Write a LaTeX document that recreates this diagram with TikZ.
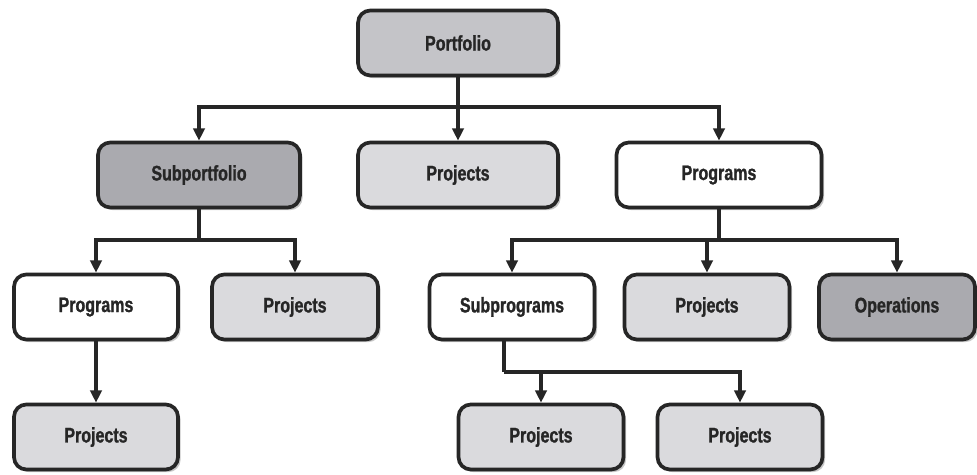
\documentclass[tikz,border=0pt]{standalone}
\usepackage{fontspec}
\setmainfont{Liberation Sans}[FakeStretch=0.76,FakeBold=1.2]
\usetikzlibrary{arrows.meta,shadows}

\definecolor{boxmid}{RGB}{196,196,200}
\definecolor{boxdark}{RGB}{170,170,175}
\definecolor{boxlight}{RGB}{218,218,221}

\begin{document}
\begin{tikzpicture}[x=0.02cm, y=-0.02cm,
        box/.style={draw=black!85, line width=2.1pt, rounded corners=7pt,
            minimum height=1.3cm, font=\fontsize{12}{14}\selectfont\bfseries,
            text=black!85, drop shadow={shadow xshift=1.5pt,
            shadow yshift=-1.5pt, fill=black!22, opacity=1}},
        link/.style={line width=2.1pt, draw=black!85},
        arr/.style={link, -{Triangle[length=7pt,width=6.5pt]}}]
        \useasboundingbox (0,0) rectangle (977,475);

        \node[box, fill=boxmid, minimum width=4cm] (port) at (458,43) {Portfolio};
        \node[box, fill=boxdark, minimum width=4.04cm] (sub) at (199,175) {Subportfolio};
        \node[box, fill=boxlight, minimum width=4cm] (projA) at (458,175) {Projects};
        \node[box, fill=white, minimum width=4.1cm] (progA) at (719,175) {Programs};
        \node[box, fill=white, minimum width=3.28cm] (progB) at (96,307) {Programs};
        \node[box, fill=boxlight, minimum width=3.32cm] (projB) at (295,307) {Projects};
        \node[box, fill=white, minimum width=3.3cm] (subprog) at (512,307) {Subprograms};
        \node[box, fill=boxlight, minimum width=3.3cm] (projC) at (707,307) {Projects};
        \node[box, fill=boxdark, minimum width=3.12cm] (oper) at (897,307) {Operations};
        \node[box, fill=boxlight, minimum width=3.28cm] (projD) at (96,437) {Projects};
        \node[box, fill=boxlight, minimum width=3.3cm] (projE) at (541,437) {Projects};
        \node[box, fill=boxlight, minimum width=3.3cm] (projF) at (740,437) {Projects};

        \coordinate (busA) at (458,107);
        \coordinate (busB) at (199,240);
        \coordinate (busC) at (719,240);
        \coordinate (busD) at (504,372);

        \draw [link] (port.south) -- (busA);
        \draw [arr] (busA) -| (sub.north);
        \draw [arr] (busA) -- (projA.north);
        \draw [arr] (busA) -| (progA.north);

        \draw [link] (sub.south) -- (busB);
        \draw [arr] (busB) -| (progB.north);
        \draw [arr] (busB) -| (projB.north);

        \draw [link] (progA.south) -- (busC);
        \draw [arr] (busC) -| (subprog.north);
        \draw [arr] (busC) -| (projC.north);
        \draw [arr] (busC) -| (oper.north);

        \draw [arr] (progB.south) -- (projD.north);

        \draw [link] (subprog.south -| busD) -- (busD);
        \draw [arr] (busD) -| (projE.north);
        \draw [arr] (busD) -| (projF.north);
\end{tikzpicture}
\end{document}
